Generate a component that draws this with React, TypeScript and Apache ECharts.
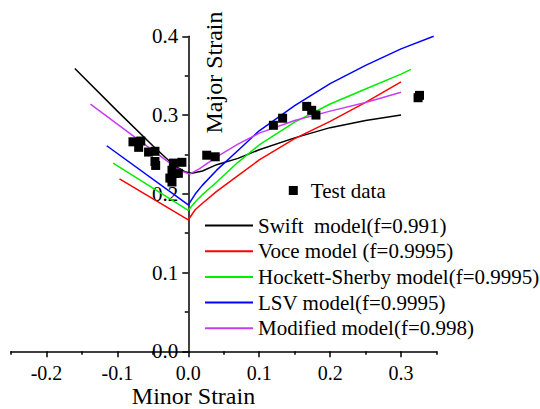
import React, { useEffect, useRef } from "react";
import * as echarts from "echarts";

// ---- data ----
const xMajorTicks = [-0.2, -0.1, 0, 0.1, 0.2, 0.3];
const xMinorTicks = [-0.25, -0.15, -0.05, 0.05, 0.15, 0.25, 0.35];

const testX = [-0.078, -0.067, -0.07, -0.056, -0.047, -0.047, -0.046, -0.021, -0.009, -0.023, -0.019, -0.014, -0.026, -0.023, 0.026, 0.038, 0.12, 0.133, 0.167, 0.174, 0.18, 0.324, 0.326];
const testY = [0.266, 0.267, 0.259, 0.253, 0.254, 0.241, 0.236, 0.239, 0.24, 0.23, 0.226, 0.226, 0.22, 0.215, 0.249, 0.247, 0.287, 0.296, 0.311, 0.306, 0.3, 0.322, 0.325];

const swiftX = [-0.16, -0.1, -0.05, -0.02, -0.005, 0.005, 0.02, 0.04, 0.07, 0.1, 0.15, 0.2, 0.25, 0.3];
const swiftY = [0.359, 0.305, 0.261, 0.236, 0.228, 0.226, 0.229, 0.237, 0.245, 0.256, 0.271, 0.284, 0.293, 0.3];

const voceX = [-0.097, 0, 0.01, 0.02, 0.04, 0.07, 0.1, 0.15, 0.2, 0.25, 0.3];
const voceY = [0.219, 0.167, 0.18, 0.188, 0.203, 0.223, 0.243, 0.27, 0.292, 0.316, 0.342];

const hsX = [-0.106, 0, 0.01, 0.02, 0.04, 0.07, 0.1, 0.15, 0.2, 0.25, 0.3, 0.314];
const hsY = [0.239, 0.179, 0.19, 0.199, 0.215, 0.24, 0.262, 0.291, 0.314, 0.333, 0.352, 0.358];

const lsvX = [-0.115, 0, 0.01, 0.02, 0.04, 0.07, 0.1, 0.15, 0.2, 0.25, 0.3, 0.346];
const lsvY = [0.261, 0.186, 0.2, 0.211, 0.23, 0.255, 0.28, 0.312, 0.34, 0.363, 0.384, 0.4];

const modX = [-0.138, -0.026, -0.01, 0.002, 0.016, 0.04, 0.07, 0.1, 0.15, 0.2, 0.25, 0.3];
const modY = [0.314, 0.239, 0.229, 0.225, 0.232, 0.247, 0.263, 0.277, 0.293, 0.305, 0.316, 0.329];

const seriesNames = [
  "Swift  model(f=0.991)",
  "Voce model (f=0.9995)",
  "Hockett-Sherby model(f=0.9995)",
  "LSV model(f=0.9995)",
  "Modified model(f=0.998)",
];
const seriesColors = ["#000000", "#ff0000", "#00ee00", "#0000ff", "#c83cf5"];

const zip = (xs: number[], ys: number[]) => xs.map((x, i) => [x, ys[i]]);

const FONT = "Liberation Serif";
const X_MIN = -0.25;
const X_MAX = 0.35;
const GRID_LEFT = 11;
const GRID_RIGHT = 103.5;
const CHART_W = 540;

export default function App() {
  const ref = useRef<HTMLDivElement>(null);
  useEffect(() => {
    document.body.style.margin = "0";
    if (!ref.current) return;
    const chart = echarts.init(ref.current, null, { renderer: "svg" });
    const plotW = CHART_W - GRID_LEFT - GRID_RIGHT;
    const zeroOffset = ((0 - X_MIN) / (X_MAX - X_MIN)) * plotW;
    const lineData = [
      zip(swiftX, swiftY),
      zip(voceX, voceY),
      zip(hsX, hsY),
      zip(lsvX, lsvY),
      zip(modX, modY),
    ];
    const lineSeries = lineData.map((d, i) => ({
      name: seriesNames[i],
      type: "line",
      data: d,
      symbol: "none",
      showSymbol: false,
      clip: false,
      lineStyle: { color: seriesColors[i], width: 1.5 },
      itemStyle: { color: seriesColors[i] },
      xAxisIndex: 0,
      yAxisIndex: 0,
    }));
    chart.setOption({
      animation: false,
      backgroundColor: "#ffffff",
      textStyle: { fontFamily: FONT },
      grid: { left: GRID_LEFT, right: GRID_RIGHT, top: 36.3, bottom: 57.7, containLabel: false, outerBoundsMode: "none" },
      xAxis: [
        {
          type: "value",
          min: X_MIN,
          max: X_MAX,
          axisLine: { onZero: false, lineStyle: { color: "#000", width: 1.5 } },
          axisTick: { show: true, inside: false, length: 6, lineStyle: { color: "#000", width: 1.5 }, customValues: xMajorTicks },
          axisLabel: {
            show: true,
            customValues: xMajorTicks,
            fontSize: 20,
            fontFamily: FONT,
            color: "#000",
            margin: 12,
            formatter: (v: number) => v.toFixed(1),
          },
          splitLine: { show: false },
        },
        {
          type: "value",
          min: X_MIN,
          max: X_MAX,
          position: "bottom",
          axisLine: { show: false, onZero: false },
          axisTick: { show: true, inside: false, length: 3.5, lineStyle: { color: "#000", width: 1.5 }, customValues: xMinorTicks },
          axisLabel: { show: false },
          splitLine: { show: false },
        },
      ],
      yAxis: {
        type: "value",
        min: 0,
        max: 0.4,
        interval: 0.1,
        position: "left",
        offset: -zeroOffset,
        axisLine: { show: true, onZero: false, lineStyle: { color: "#000", width: 1.5 } },
        axisTick: { show: true, inside: false, length: 6, lineStyle: { color: "#000", width: 1.5 } },
        minorTick: { show: true, splitNumber: 2, length: 3.5, lineStyle: { color: "#000", width: 1.5 } },
        axisLabel: {
          fontSize: 21,
          fontFamily: FONT,
          color: "#000",
          margin: 10,
          formatter: (v: number) => v.toFixed(1),
        },
        splitLine: { show: false },
        minorSplitLine: { show: false },
      },
      legend: [
        {
          data: ["Test data"],
          left: 288.8,
          top: 180,
          padding: 0,
          itemWidth: 9,
          itemHeight: 9,
          icon: "rect",
          selectedMode: false,
          textStyle: { fontSize: 21, fontFamily: FONT, color: "#000", padding: [0, 0, 0, 8] },
        },
        {
          data: seriesNames,
          orient: "vertical",
          left: 205,
          top: 215,
          padding: 0,
          icon: "rect",
          itemWidth: 48,
          itemHeight: 2,
          itemGap: 4.7,
          selectedMode: false,
          textStyle: { fontSize: 21, lineHeight: 21, fontFamily: FONT, color: "#000" },
        },
      ],
      graphic: [
        {
          type: "text",
          x: 193.5,
          y: 396,
          style: { text: "Minor Strain", fontSize: 24, fontFamily: FONT, fontWeight: "normal", fill: "#000", textAlign: "center", textVerticalAlign: "middle" },
        },
        {
          type: "text",
          x: 214,
          y: 72.5,
          rotation: Math.PI / 2,
          style: { text: "Major Strain", fontSize: 24, fontFamily: FONT, fontWeight: "normal", fill: "#000", textAlign: "center", textVerticalAlign: "middle" },
        },
      ],
      series: [
        ...lineSeries,
        {
          name: "Test data",
          type: "scatter",
          symbol: "rect",
          symbolSize: 9,
          data: zip(testX, testY),
          itemStyle: { color: "#000", opacity: 1 },
          xAxisIndex: 0,
          yAxisIndex: 0,
          z: 5,
        },
      ],
    });
    return () => chart.dispose();
  }, []);
  return <div ref={ref} style={{ width: 540, height: 409 }} />;
}
